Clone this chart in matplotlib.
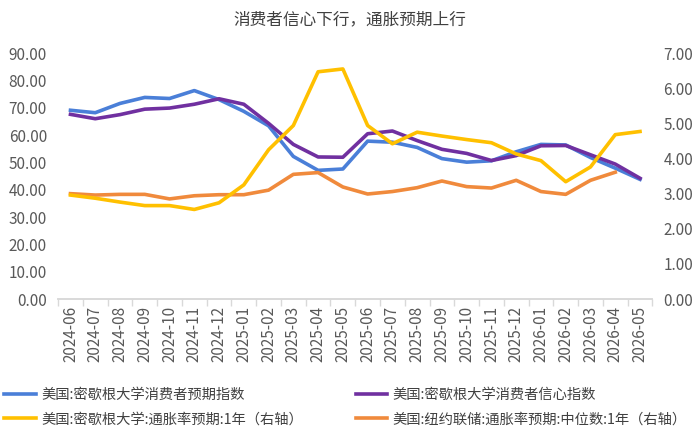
import matplotlib.pyplot as plt
from matplotlib.ticker import FormatStrFormatter, FixedLocator

plt.rcParams['font.family'] = ['Noto Sans CJK SC', 'DejaVu Sans']

# 月份
months = ['2024-06', '2024-07', '2024-08', '2024-09', '2024-10', '2024-11',
          '2024-12', '2025-01', '2025-02', '2025-03', '2025-04', '2025-05',
          '2025-06', '2025-07', '2025-08', '2025-09', '2025-10', '2025-11',
          '2025-12', '2026-01', '2026-02', '2026-03', '2026-04', '2026-05']

# 左轴
expectations = [69.1, 68.2, 71.6, 73.8, 73.4, 76.3, 73.0, 68.7, 63.4, 52.2,
                47.1, 47.6, 57.8, 57.4, 55.5, 51.4, 50.1, 50.6, 53.9, 56.6,
                56.4, 51.8, 47.9, 43.8]
sentiment = [67.6, 66.0, 67.5, 69.5, 69.9, 71.3, 73.3, 71.3, 64.3, 56.6,
             52.0, 51.9, 60.5, 61.5, 58.0, 54.8, 53.3, 50.7, 52.5, 56.1,
             56.2, 52.8, 49.4, 44.2]

# 右轴
mich_infl = [2.96, 2.87, 2.76, 2.66, 2.66, 2.55, 2.74, 3.25, 4.25, 4.94,
             6.47, 6.55, 4.94, 4.42, 4.75, 4.64, 4.54, 4.45, 4.13, 3.94,
             3.34, 3.76, 4.68, 4.77]
nyfed_infl = [3.00, 2.96, 2.98, 2.98, 2.85, 2.94, 2.97, 2.97, 3.10, 3.55,
              3.60, 3.19, 2.99, 3.06, 3.17, 3.36, 3.20, 3.16, 3.38, 3.06,
              2.98, 3.38, 3.61, None]

lbl_exp = '美国:密歇根大学消费者预期指数'
lbl_sent = '美国:密歇根大学消费者信心指数'
lbl_mich = '美国:密歇根大学:通胀率预期:1年（右轴）'
lbl_ny = '美国:纽约联储:通胀率预期:中位数:1年（右轴）'

x = list(range(len(months)))
# 纽约联储最后一个月还没有数据
ny_x = [i for i, v in zip(x, nyfed_infl) if v is not None]
ny_y = [v for v in nyfed_infl if v is not None]

fig = plt.figure(figsize=(7, 4.43), dpi=100)
ax = fig.add_axes([0.083, 0.325, 0.849, 0.555])
ax2 = ax.twinx()

l1, = ax.plot(x, expectations, color='#4a7fd8', lw=2.6, label=lbl_exp)
l2, = ax.plot(x, sentiment, color='#7030a0', lw=2.6, label=lbl_sent)
l4, = ax2.plot(ny_x, ny_y, color='#f08a3c', lw=2.6, label=lbl_ny, zorder=1)
l3, = ax2.plot(x, mich_infl, color='#ffc000', lw=2.6, label=lbl_mich, zorder=2)

ax.set_ylim(0, 90)
ax2.set_ylim(0, 7)
ax.set_yticks(range(0, 91, 10))
ax2.set_yticks(range(0, 8))
ax.yaxis.set_major_formatter(FormatStrFormatter('%.2f'))
ax2.yaxis.set_major_formatter(FormatStrFormatter('%.2f'))
ax.set_xlim(-0.5, len(months) - 0.5)

ax.set_xticks(x)
ax.set_xticklabels(months, rotation=90)
ax.xaxis.set_minor_locator(FixedLocator([i - 0.5 for i in range(len(months) + 1)]))
ax.tick_params(axis='x', which='major', length=0, pad=5)
ax.tick_params(axis='x', which='minor', length=5, color='#d9d9d9', width=1)

for a in (ax, ax2):
    for s in ['top', 'left', 'right']:
        a.spines[s].set_visible(False)
    a.spines['bottom'].set_color('#d9d9d9')
    a.spines['bottom'].set_linewidth(1.2)
    a.tick_params(axis='y', length=0, labelsize=11, colors='#595959')
ax.tick_params(axis='x', labelsize=11, colors='#595959')
ax.tick_params(axis='y', pad=8)
ax2.tick_params(axis='y', pad=8)

fig.text(0.5, 0.955, '消费者信心下行，通胀预期上行', ha='center', va='center',
         fontsize=12, color='#404040')

# 图例：两列，分开放
leg_kw = dict(loc='upper left', frameon=False, fontsize=10.3, handlelength=2.2,
              handletextpad=0.4, labelcolor='#404040', labelspacing=0.75,
              borderaxespad=0, borderpad=0)
fig.legend(handles=[l1, l3], bbox_to_anchor=(0.006, 0.125), **leg_kw)
fig.legend(handles=[l2, l4], bbox_to_anchor=(0.508, 0.125), **leg_kw)

fig.savefig('out.png', dpi=100)
